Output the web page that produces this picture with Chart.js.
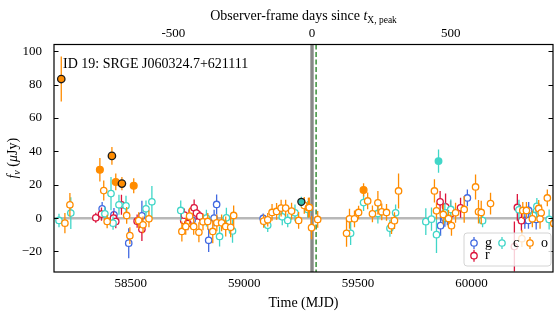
<!DOCTYPE html>
<html>
<head>
<meta charset="utf-8">
<script src="https://cdn.jsdelivr.net/npm/chart.js@4.4.1/dist/chart.umd.min.js"></script>
<style>
  html, body { margin: 0; padding: 0; background: #fff; }
  #wrap { width: 560px; height: 320px; }
</style>
</head>
<body>
<div id="wrap"><canvas id="lc" width="560" height="320"></canvas></div>
<script>
// light curve of ID 19: MJD, flux (uJy), 1-sigma error

// g band (non-detections)
const gMjd  = [58374, 58426, 58491, 58549, 58770, 58843, 58867, 58878, 59083, 59864, 59883, 59894, 59982, 60235, 60251, 60252, 60285];
const gFlux = [5.6, 2.0, -15.0, 1.4, -1.2, -13.3, 0.0, 8.2, -0.2, -4.5, -0.2, 0.8, 12.1, -1.4, -1.4, 4.6, -0.8];
const gErr  = [4, 4, 9, 9, 5, 7, 5, 6, 3, 6, 5, 5, 5, 5, 5, 5, 6];

// r band
const rMjd  = [58346, 58371, 58424, 58434, 58459, 58528, 58549, 58733, 58736, 58751, 58770, 58779, 58789, 58804, 59862, 59886, 59908, 59952, 60189, 60202, 60220];
const rFlux = [0.2, 2.4, 0.0, -2.0, 8.0, -1.8, -6.7, -1.4, 1.8, -3.2, 4.2, 6.2, 3.0, 1.2, 9.8, 6.8, 2.4, 6.2, -17.0, 6.4, -1.5];
const rErr  = [3, 4, 4, 4, 6, 4, 7, 4, 4, 4, 4, 5, 4, 3, 6.5, 8, 8, 6, 15, 8, 6];

// c band
const cMjd  = [58184, 58236, 58386, 58413, 58422, 58448, 58479, 58567, 58593, 58720, 58833, 58891, 58921, 58948, 59103, 59167, 59191, 59223, 59279,
               59468, 59525, 59588, 59641, 59666, 59799, 59824, 59846, 59883, 59909, 60049, 60209, 60273, 60288, 60342];
const cFlux = [-1.4, 3.0, 2.6, 14.7, -3.0, 8.0, 7.4, 5.6, 9.8, 4.6, 0.0, -11.0, 0.2, -7.7, -4.3, 0.8, -1.4, 3.2, 5.2,
               -9.1, 9.3, 2.8, -6.1, 3.2, -2.1, -0.6, -9.9, 3.2, 5.2, -1.5, 5.0, 1.6, 7.1, -0.8];
const cErr  = [4, 9.5, 4, 10, 4, 6, 6, 5, 9.5, 6, 5, 6, 6, 7, 4, 5, 4, 5, 5,
               7, 5, 6, 5, 5, 8, 7, 11, 6, 6, 4, 6, 4, 5, 6];

// o band
const oMjd  = [58210, 58232, 58381, 58396, 58482, 58496, 58535, 58554, 58580, 58725, 58742, 58759, 58777, 58800, 58818, 58839, 58861, 58879, 58900,
               58918, 58940, 58953, 59085, 59103, 59122, 59142, 59162, 59182, 59208, 59239, 59264, 59282, 59286, 59296, 59323, 59450, 59463, 59485,
               59503, 59543, 59564, 59588, 59605, 59626, 59648, 59661, 59679, 59837, 59846, 59876, 59899, 59912, 59930, 59968, 60018, 60031, 60043,
               60084, 60222, 60226, 60242, 60268, 60296, 60302, 60307, 60334, 60362];
const oFlux = [-3.0, 8.0, 16.5, -2.0, 1.6, -10.5, -1.5, -4.0, -0.4, -8.0, -5.0, 1.2, -5.0, -8.5, -2.2, -2.0, -8.0, -2.8, -2.8,
               -5.0, -5.5, 1.6, -1.8, -1.0, 3.4, 4.0, 6.0, 6.0, 4.2, -1.4, 7.6, 6.2, 6.4, -5.7, -0.8, -9.1, -0.4, -0.4,
               3.4, 10.3, 2.6, 9.2, 3.8, 3.4, -4.5, -1.5, 16.3, 16.3, 4.4, 2.2, -0.2, -4.5, 3.2, 5.2, 18.7, 3.8, 3.4,
               8.7, -12.3, 4.6, 4.6, -0.4, 5.8, -0.4, 3.2, 12.1, -3.2];
const oErr  = [6, 7, 6, 4, 5, 5, 5, 5, 5, 6, 5, 5, 5, 6, 5, 5, 7, 5, 5,
               6, 6, 6, 4, 4, 5, 5, 5, 5, 5, 5, 5, 6, 6, 7, 5, 8, 6, 5,
               4, 5, 5, 7, 5, 5, 5, 5, 10.5, 7, 5, 6, 5, 6, 6, 8, 7.5, 7, 7,
               6.5, 5, 5, 5, 5, 5, 6, 5, 5, 6];

// detections (filled markers); the "peak" ones carry a black edge
const oDetMjd  = [58364, 58434, 58513, 59525];
const oDetFlux = [29.0, 21.7, 19.4, 16.9];
const oDetErr  = [7, 5, 4.5, 4];
const oPeakMjd  = [58194, 58417, 58461];
const oPeakFlux = [83.4, 37.3, 20.7];
const oPeakErr  = [13.5, 5.3, 4];
const cDetMjd  = [59855];
const cDetFlux = [34.2];
const cDetErr  = [7];
const cPeakMjd  = [59251];
const cPeakFlux = [9.8];
const cPeakErr  = [3];

// axis tick labels
const mjdLabels = [58500, 59000, 59500, 60000];
const dayLabels = [-500, 0, 500];

const xMin = 58162, xMax = 60359;
const yMin = -32.3, yMax = 104.1;
const tPeak = 59298;     // gray line, zero of the top axis
const tOpt = 59316;      // green dashed line
const dayFactor = 0.819; // top axis days per MJD

const gColor = '#4169e1', rColor = '#dc143c', cColor = '#40d6c8', oColor = '#ff8c00';
const serif = "'Liberation Serif', 'DejaVu Serif', serif";

Chart.defaults.font.family = serif;
Chart.defaults.color = '#000';

function pts(mjd, flux) {
    return mjd.map((m, i) => ({ x: m, y: flux[i] }));
}

function band(label, mjd, flux, err, color, extra) {
    return Object.assign({
        label: label,
        data: pts(mjd, flux),
        errs: err,
        errColor: color,
        showLine: false,
        pointRadius: 3.2,
        pointHoverRadius: 3.2,
        pointBorderWidth: 1.3,
        pointBorderColor: color,
        pointBackgroundColor: '#fff'
    }, extra || {});
}

function fmt(v) {
    return v < 0 ? '\u2212' + Math.abs(v) : String(v);
}

// vertical error bars, drawn just before each dataset's markers
const errorBars = {
    id: 'errorBars',
    beforeDatasetDraw(chart, args) {
        const ds = chart.data.datasets[args.index];
        if (!ds.errs) return;
        const ctx = chart.ctx, a = chart.chartArea;
        const xs = chart.scales.x, ys = chart.scales.y;
        ctx.save();
        ctx.beginPath();
        ctx.rect(a.left, a.top, a.right - a.left, a.bottom - a.top);
        ctx.clip();
        ctx.strokeStyle = ds.errColor;
        ctx.lineWidth = 1.3;
        ds.data.forEach((p, i) => {
            const px = xs.getPixelForValue(p.x);
            ctx.beginPath();
            ctx.moveTo(px, ys.getPixelForValue(p.y - ds.errs[i]));
            ctx.lineTo(px, ys.getPixelForValue(p.y + ds.errs[i]));
            ctx.stroke();
        });
        ctx.restore();
    }
};

// zero line, X-ray peak and the dashed line
const refLines = {
    id: 'refLines',
    beforeDatasetsDraw(chart) {
        const ctx = chart.ctx, a = chart.chartArea;
        const xs = chart.scales.x, ys = chart.scales.y;
        ctx.save();
        ctx.strokeStyle = '#b8b8b8';
        ctx.lineWidth = 2.5;
        const y0 = ys.getPixelForValue(0);
        ctx.beginPath(); ctx.moveTo(a.left, y0); ctx.lineTo(a.right, y0); ctx.stroke();

        const xp = xs.getPixelForValue(tPeak);
        ctx.strokeStyle = '#888';
        ctx.lineWidth = 3.4;
        ctx.beginPath(); ctx.moveTo(xp, a.top); ctx.lineTo(xp, a.bottom); ctx.stroke();

        const xg = xs.getPixelForValue(tOpt);
        ctx.strokeStyle = '#3a8f3a';
        ctx.lineWidth = 1.5;
        ctx.setLineDash([5, 2.5]);
        ctx.beginPath(); ctx.moveTo(xg, a.top); ctx.lineTo(xg, a.bottom); ctx.stroke();
        ctx.restore();
    }
};

// box, inward ticks and the x tick labels, matplotlib style
const frame = {
    id: 'frame',
    afterDatasetsDraw(chart) {
        const ctx = chart.ctx, a = chart.chartArea;
        const xs = chart.scales.x, x2 = chart.scales.x2, ys = chart.scales.y;
        ctx.save();
        ctx.strokeStyle = '#000';
        ctx.lineWidth = 1;
        ctx.beginPath();
        xs.ticks.forEach(t => {
            const px = Math.round(xs.getPixelForValue(t.value)) + 0.5;
            const len = t.value % 500 === 0 ? 4.5 : 2.5;
            ctx.moveTo(px, a.bottom); ctx.lineTo(px, a.bottom - len);
        });
        x2.ticks.forEach(t => {
            const px = Math.round(x2.getPixelForValue(t.value)) + 0.5;
            const len = t.value % 500 === 0 ? 4.5 : 2.5;
            ctx.moveTo(px, a.top); ctx.lineTo(px, a.top + len);
        });
        ys.ticks.forEach(t => {
            const py = Math.round(ys.getPixelForValue(t.value)) + 0.5;
            ctx.moveTo(a.left, py); ctx.lineTo(a.left + 4.5, py);
            ctx.moveTo(a.right, py); ctx.lineTo(a.right - 4.5, py);
        });
        ctx.stroke();
        ctx.lineWidth = 1.2;
        ctx.strokeRect(a.left, a.top, a.right - a.left, a.bottom - a.top);

        ctx.fillStyle = '#000';
        ctx.font = '13px ' + serif;
        ctx.textAlign = 'center';
        ctx.textBaseline = 'alphabetic';
        mjdLabels.forEach(v => {
            ctx.fillText(String(v), xs.getPixelForValue(v), a.bottom + 15);
        });
        dayLabels.forEach(v => {
            ctx.fillText(String(v), x2.getPixelForValue(v), a.top - 8);
        });
        ctx.restore();
    }
};

// legend inside the axes, lower right
const legendBox = {
    id: 'legendBox',
    afterDatasetsDraw(chart) {
        const ctx = chart.ctx, a = chart.chartArea;
        const w = 87, h = 33;
        const x = a.right - 2 - w, y = a.bottom - 6 - h;
        ctx.save();
        ctx.beginPath();
        ctx.roundRect(x, y, w, h, 3);
        ctx.fillStyle = 'rgba(255,255,255,0.8)';
        ctx.fill();
        ctx.strokeStyle = '#d4d4d4';
        ctx.lineWidth = 1;
        ctx.stroke();
        const items = [
            { t: 'g', c: gColor, col: 0, row: 0 },
            { t: 'r', c: rColor, col: 0, row: 1 },
            { t: 'c', c: cColor, col: 1, row: 0 },
            { t: 'o', c: oColor, col: 2, row: 0 }
        ];
        ctx.font = '14px ' + serif;
        ctx.textBaseline = 'middle';
        items.forEach(it => {
            const mx = x + 10 + it.col * 28, my = y + 10 + it.row * 12.7;
            ctx.strokeStyle = it.c;
            ctx.lineWidth = 1.3;
            ctx.beginPath(); ctx.moveTo(mx, my - 6); ctx.lineTo(mx, my + 6); ctx.stroke();
            ctx.beginPath(); ctx.arc(mx, my, 3.2, 0, Math.PI * 2);
            ctx.fillStyle = '#fff'; ctx.fill(); ctx.stroke();
            ctx.fillStyle = '#000';
            ctx.fillText(it.t, mx + 11, my);
        });
        ctx.restore();
    }
};

// write a run of text pieces (roman / italic / subscript)
function pieces(ctx, parts, x, y, align) {
    let total = 0;
    parts.forEach(p => {
        ctx.font = (p.it ? 'italic ' : '') + (p.s || 14) + 'px ' + serif;
        p.w = ctx.measureText(p.t).width;
        total += p.w;
    });
    let cx = align === 'center' ? x - total / 2 : x;
    parts.forEach(p => {
        ctx.font = (p.it ? 'italic ' : '') + (p.s || 14) + 'px ' + serif;
        ctx.fillText(p.t, cx, y + (p.dy || 0));
        cx += p.w;
    });
}

const labels = {
    id: 'labels',
    afterDraw(chart) {
        const ctx = chart.ctx, a = chart.chartArea;
        const mid = (a.left + a.right) / 2;
        ctx.save();
        ctx.fillStyle = '#000';
        ctx.textBaseline = 'alphabetic';
        pieces(ctx, [{ t: 'Time (MJD)' }], mid, 307, 'center');
        pieces(ctx, [
            { t: 'Observer-frame days since ' },
            { t: 't', it: true },
            { t: 'X, peak', s: 9.5, dy: 3 }
        ], mid, 20, 'center');
        pieces(ctx, [{ t: 'ID 19: SRGE J060324.7+621111' }], a.left + 9, 68, 'left');
        ctx.translate(17, (a.top + a.bottom) / 2);
        ctx.rotate(-Math.PI / 2);
        pieces(ctx, [
            { t: 'f', it: true },
            { t: '\u03bd', it: true, s: 10, dy: 3 },
            { t: ' (' },
            { t: '\u03bc', it: true },
            { t: 'Jy)' }
        ], 0, 0, 'center');
        ctx.restore();
    }
};

const tickFont = { family: serif, size: 13 };

new Chart(document.getElementById('lc'), {
    type: 'scatter',
    data: {
        datasets: [
            band('c peak', cPeakMjd, cPeakFlux, cPeakErr, cColor, { pointBackgroundColor: '#33bfb0', pointBorderColor: '#1a1a1a', pointRadius: 3.5 }),
            band('c det', cDetMjd, cDetFlux, cDetErr, cColor, { pointBackgroundColor: cColor, pointRadius: 3.3 }),
            band('o peak', oPeakMjd, oPeakFlux, oPeakErr, oColor, { pointBackgroundColor: oColor, pointBorderColor: '#1a1a1a', pointRadius: 3.7 }),
            band('o det', oDetMjd, oDetFlux, oDetErr, oColor, { pointBackgroundColor: oColor, pointRadius: 3.4 }),
            band('o', oMjd, oFlux, oErr, oColor),
            band('c', cMjd, cFlux, cErr, cColor),
            band('r', rMjd, rFlux, rErr, rColor),
            band('g', gMjd, gFlux, gErr, gColor)
        ]
    },
    options: {
        responsive: false,
        animation: false,
        devicePixelRatio: 1,
        events: [],
        layout: { padding: { left: 0, right: 7, top: 0, bottom: 0 } },
        plugins: {
            legend: { display: false },
            tooltip: { enabled: false }
        },
        scales: {
            x: {
                type: 'linear', position: 'bottom', min: xMin, max: xMax,
                grid: { display: false }, border: { display: false },
                ticks: { stepSize: 100, includeBounds: false, display: false },
                afterBuildTicks: s => { s.ticks = s.ticks.filter(t => Math.abs(t.value % 100) < 1e-6); },
                afterFit: s => { s.height = 48; }
            },
            x2: {
                type: 'linear', position: 'top',
                min: (xMin - tPeak) * dayFactor, max: (xMax - tPeak) * dayFactor,
                grid: { display: false }, border: { display: false },
                ticks: { stepSize: 100, includeBounds: false, display: false },
                afterBuildTicks: s => { s.ticks = s.ticks.filter(t => Math.abs(t.value % 100) < 1e-6); },
                afterFit: s => { s.height = 44.5; }
            },
            y: {
                min: yMin, max: yMax,
                grid: { display: false }, border: { display: false },
                ticks: { stepSize: 20, includeBounds: false, padding: 4, font: tickFont, callback: v => fmt(v) },
                afterBuildTicks: s => { s.ticks = s.ticks.filter(t => Math.abs(t.value % 20) < 1e-6); },
                afterFit: s => { s.width = 54; }
            }
        }
    },
    plugins: [refLines, errorBars, frame, legendBox, labels]
});
</script>
</body>
</html>
